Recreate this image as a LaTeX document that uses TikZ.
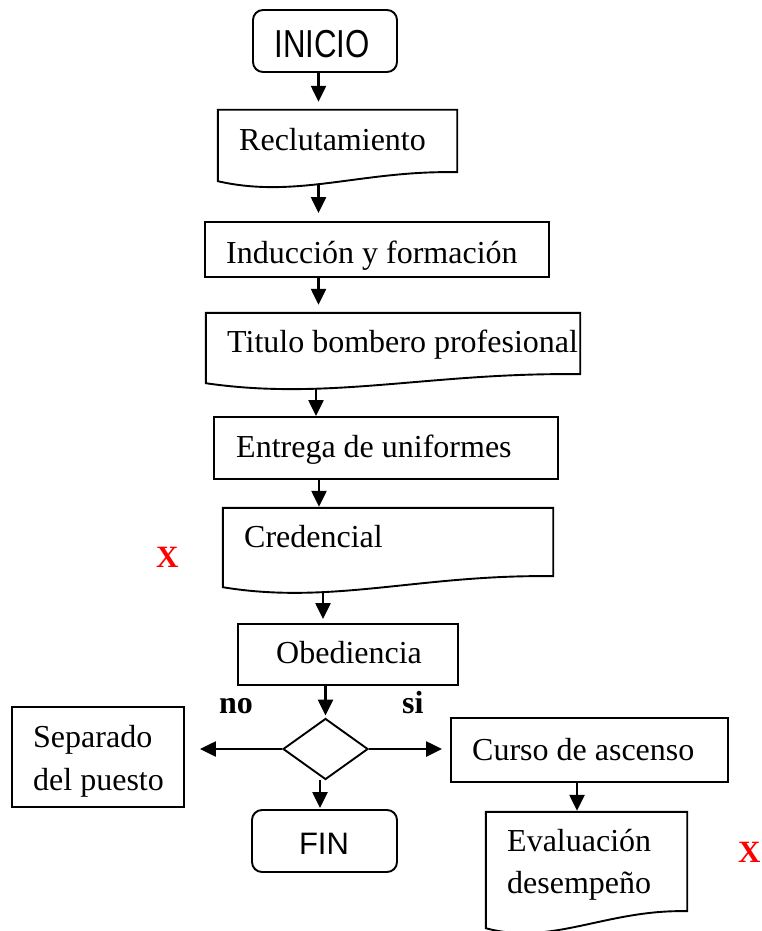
\documentclass[tikz,border=0pt]{standalone}
\usepackage{fontspec}
\setmainfont{Liberation Serif}
\newfontfamily\arialfam{Liberation Sans}
\usetikzlibrary{arrows.meta,calc,shapes.geometric}
\newcommand\lblfont{\fontsize{32}{40}\selectfont}
\newcommand\docshape[3]{%
  \draw[boxline] (#1.south west) -- (#1.north west) -- (#1.north east)
    -- ($(#1.south east)+(0,-#3)$)
    .. controls ($(#1.south west)+(0.6*#2,-#3-2)$) and ($(#1.south west)+(0.33*#2,18)$) ..
    (#1.south west) -- cycle;}
\tikzset{
  boxline/.style={line width=1.9pt, line join=miter},
  procbox/.style={draw, boxline, rectangle, inner sep=0pt},
  termbox/.style={draw, boxline, rectangle, rounded corners=10pt, inner sep=0pt},
  docbox/.style={rectangle, inner sep=0pt},
  decbox/.style={draw, boxline, diamond, inner sep=0pt},
  arr/.style={line width=2.4pt, -{Triangle[length=16pt,width=15pt]}},
  lbl/.style={anchor=base west, inner sep=0pt, font=\lblfont},
  boldlbl/.style={anchor=base west, inner sep=0pt, font=\lblfont\bfseries},
  redx/.style={anchor=base west, inner sep=0pt, font=\fontsize{31}{40}\selectfont\bfseries, text=red},
}
\begin{document}
\begin{tikzpicture}[x=1pt,y=-1pt]
\useasboundingbox[fill=white] (0,0) rectangle (761,931);

% shapes
\node[termbox, minimum width=144pt, minimum height=62pt] (inicio) at (325,41) {};
\node[docbox, minimum width=239pt, minimum height=71pt] (reclu) at (337.5,145.5) {};
\docshape{reclu}{239}{9}
\node[procbox, minimum width=344pt, minimum height=55pt] (induc) at (377,249.5) {};
\node[docbox, minimum width=374pt, minimum height=70pt] (titulo) at (393,348) {};
\docshape{titulo}{374}{9}
\node[procbox, minimum width=344pt, minimum height=62pt] (entrega) at (386,448) {};
\node[docbox, minimum width=330pt, minimum height=79pt] (cred) at (388,547.5) {};
\docshape{cred}{330}{11}
\node[procbox, minimum width=220pt, minimum height=61pt] (obed) at (348,654.5) {};
\node[decbox, minimum width=85pt, minimum height=61pt] (dec) at (325.5,749) {};
\node[procbox, minimum width=172pt, minimum height=100pt] (sep) at (98,757) {};
\node[procbox, minimum width=277pt, minimum height=64pt] (curso) at (589.5,750) {};
\node[termbox, minimum width=145pt, minimum height=62pt] (fin) at (324.5,841) {};
\node[docbox, minimum width=201pt, minimum height=116pt] (eval) at (586.5,870) {};
\docshape{eval}{201}{17}

% texts
\node[anchor=base, inner sep=0pt, font=\arialfam\fontsize{39}{45}\selectfont] (tinicio) at (322,58) {\scalebox{0.8}[1]{INICIO}};
\node[lbl] (treclu) at (239,150) {Reclutamiento};
\node[lbl] (tinduc) at (226,263) {Inducción y formación};
\node[lbl] (ttitulo) at (227,352) {Titulo bombero profesional};
\node[lbl] (tentrega) at (236,457) {Entrega de uniformes};
\node[lbl] (tcred) at (244,547) {Credencial};
\node[lbl] (tobed) at (276,663) {Obediencia};
\node[lbl] (tsep1) at (33,747) {Separado};
\node[lbl] (tsep2) at (33,790) {del puesto};
\node[lbl] (tcurso) at (472,760) {Curso de ascenso};
\node[lbl] (teval1) at (507,851) {Evaluación};
\node[lbl] (teval2) at (507,893) {desempeño};
\node[anchor=base, inner sep=0pt, font=\arialfam\fontsize{31}{38}\selectfont] (tfin) at (324,854) {FIN};
\node[boldlbl] (tno) at (219,713) {no};
\node[boldlbl] (tsi) at (402,713) {si};
\node[redx] (x1) at (156,567) {X};
\node[redx] (x2) at (738,862) {X};

% connector columns
\coordinate (c1) at (318.5,0);
\coordinate (c2) at (316,0);
\coordinate (c3) at (319,0);
\coordinate (c4) at (323,0);
\coordinate (c5) at (320,0);
\coordinate (c6) at (577,0);

% connectors
\draw[arr, shorten >=8pt] (inicio.south -| c1) -- (reclu.north -| c1);
\draw[arr, shorten <=4pt, shorten >=8pt] (reclu.south -| c1) -- (induc.north -| c1);
\draw[arr, shorten >=8pt] (induc.south -| c1) -- (titulo.north -| c1);
\draw[arr, shorten <=6pt] (titulo.south -| c2) -- (entrega.north -| c2);
\draw[arr, shorten >=1pt] (entrega.south -| c3) -- (cred.north -| c3);
\draw[arr, shorten <=6pt, shorten >=4pt] (cred.south -| c4) -- (obed.north -| c4);
\draw[arr, shorten >=2pt] (obed.south -| dec.north) -- (dec.north);
\draw[arr, shorten >=15pt] (dec.west) -- (dec.west -| sep.east);
\draw[arr, shorten >=8pt] (dec.east) -- (dec.east -| curso.west);
\draw[arr, shorten >=1pt] (dec.south -| c5) -- (fin.north -| c5);
\draw[arr, shorten >=1pt] (curso.south -| c6) -- (eval.north -| c6);
\end{tikzpicture}
\end{document}
